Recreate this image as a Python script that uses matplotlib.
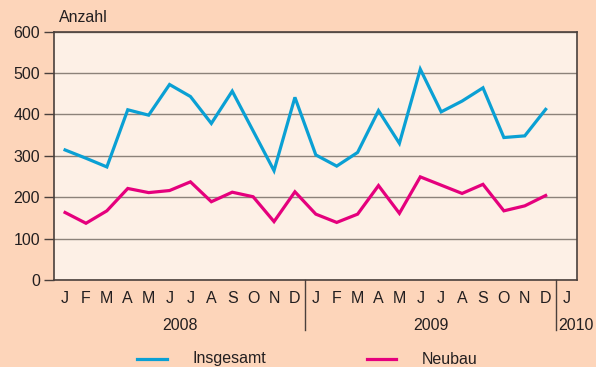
import matplotlib.pyplot as plt
import matplotlib.transforms as mtransforms
from matplotlib.lines import Line2D

plt.rcParams['font.family'] = ['Liberation Sans', 'DejaVu Sans']

# --- Data ---
months = ["J", "F", "M", "A", "M", "J", "J", "A", "S", "O", "N", "D"]
years = ["2008", "2009", "2010"]
insgesamt = [314, 294, 273, 411, 398, 472, 443, 378, 456, 360, 264, 441,
             302, 275, 308, 409, 330, 509, 406, 432, 464, 344, 348, 412]
neubau = [163, 137, 167, 221, 211, 216, 237, 189, 212, 201, 141, 213,
          159, 139, 159, 228, 161, 249, 229, 209, 231, 167, 179, 204]

BG = "#fdd5ba"
PLOT_BG = "#fdf0e6"
BLUE = "#0aa0d4"
PINK = "#e5007d"
DARK = "#4a403c"
GRID = "#8c827a"
TXT = "#231f20"
FS = 11.5

fig = plt.figure(figsize=(5.96, 3.67), dpi=100)
fig.patch.set_facecolor(BG)
ax = fig.add_axes([54 / 596, 1 - 280 / 367, 523 / 596, 248.5 / 367])
ax.set_facecolor(PLOT_BG)

x = list(range(len(insgesamt)))
ax.plot(x, insgesamt, color=BLUE, lw=2.3, solid_joinstyle="miter", zorder=3)
ax.plot(x, neubau, color=PINK, lw=2.3, solid_joinstyle="miter", zorder=3)

ax.set_xlim(-0.53, 24.5)
ax.set_ylim(0, 600)
ax.set_yticks(range(0, 601, 100))
ax.tick_params(axis="y", length=7, width=1, color=DARK, pad=3,
               labelsize=FS, labelcolor=TXT)
ax.yaxis.grid(True, color=GRID, lw=1)
ax.set_axisbelow(True)
for sp in ax.spines.values():
    sp.set_color(DARK)
    sp.set_linewidth(1.2)

# month letters and year labels under the axis
tick_labels = months * 2 + ["J"]
ax.set_xticks(range(len(tick_labels)))
ax.set_xticklabels(tick_labels, fontsize=FS, color=TXT)
ax.tick_params(axis="x", length=0, pad=8)

trans = mtransforms.blended_transform_factory(ax.transData, ax.transAxes)
ax.text(5.5, -0.182, years[0], transform=trans, ha="center", va="center",
        fontsize=FS, color=TXT)
ax.text(17.5, -0.182, years[1], transform=trans, ha="center", va="center",
        fontsize=FS, color=TXT)
ax.text(23.62, -0.182, years[2], transform=trans, ha="left", va="center",
        fontsize=FS, color=TXT)
for sep in (11.5, 23.5):
    ax.add_line(Line2D([sep, sep], [0, -0.2], transform=trans, color=DARK,
                       lw=1, clip_on=False))

fig.text(59 / 596, 1 - 17 / 367, "Anzahl", ha="left", va="center",
         fontsize=FS, color=TXT)

# legend drawn by hand along the bottom edge
ly = 1 - 359 / 367
fig.add_artist(Line2D([137 / 596, 167 / 596], [ly, ly], color=BLUE, lw=2.3))
fig.text(193 / 596, ly, "Insgesamt", ha="left", va="center", fontsize=FS,
         color=TXT)
fig.add_artist(Line2D([367 / 596, 396 / 596], [ly, ly], color=PINK, lw=2.3))
fig.text(422 / 596, ly, "Neubau", ha="left", va="center", fontsize=FS,
         color=TXT)

fig.savefig("out.png", dpi=100, facecolor=BG)
